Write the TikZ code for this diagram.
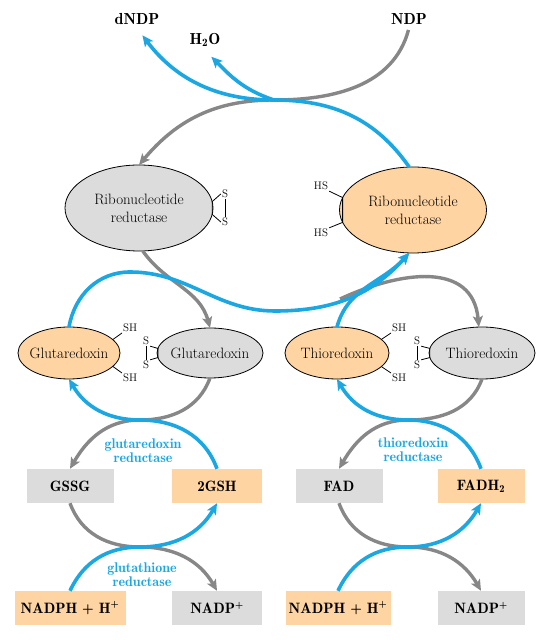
\documentclass[tikz,border=0pt]{standalone}
\usetikzlibrary{shapes.geometric,arrows.meta}
\definecolor{flowB}{HTML}{1AA7E2}
\definecolor{flowG}{HTML}{878787}
\definecolor{redF}{HTML}{FDD4A2}
\definecolor{oxF}{HTML}{DCDCDC}

\tikzset{
  enz/.style={ellipse,draw=black,line width=0.8pt,inner sep=0pt,outer sep=0pt},
  enztxt/.style={inner sep=0pt,align=center,font=\fontsize{15}{18}\selectfont},
  cofac/.style={rectangle,inner sep=0pt,minimum height=34pt,font=\fontsize{15}{18}\fontseries{b}\selectfont},
  mol/.style={font=\fontsize{16}{19}\fontseries{b}\selectfont},
  sg/.style={inner sep=1pt,font=\fontsize{11}{12}\selectfont},
  bond/.style={black,line width=0.8pt},
  redarr/.style={flowB,line width=3.6pt,-{Stealth[length=11pt,width=10pt,inset=2.5pt]}},
  oxarr/.style={flowG,line width=3.4pt,-{Stealth[length=11pt,width=10pt,inset=2.5pt]}},
  enzlbl/.style={flowB,inner sep=0pt,align=center,font=\fontsize{14}{14}\fontseries{b}\selectfont}
}

\begin{document}
\begin{tikzpicture}[x=1pt,y=1pt]
  \useasboundingbox (0,0) rectangle (537,640);

  % NDP in, dNDP and water out
  \node[mol] (dNDP) at (137,621) {dNDP};
  \node[mol] (H2O) at (205,600) {H\textsubscript{2}O};
  \node[mol] (NDP) at (409,621) {NDP};

  % ribonucleotide reductase, oxidized (left) and reduced (right)
  \node[enz,fill=oxF,minimum width=148pt,minimum height=86pt] (rrOx) at (139,432) {};
  \node[enztxt] (rrOxT) at (rrOx) {Ribonucleotide\\reductase};
  \node[enz,fill=redF,minimum width=147pt,minimum height=86pt] (rrRed) at (413,430) {};
  \node[enztxt] (rrRedT) at (rrRed) {Ribonucleotide\\reductase};

  \node[sg] (rrS1) at (225,446) {S};
  \node[sg] (rrS2) at (225,418) {S};
  \draw[bond] (rrS1.west) -- (rrOx.5) -- (rrOx.-5) -- (rrS2.west);
  \draw[bond] (rrS1.south) -- (rrS2.north);

  \node[sg] (rrHS1) at (321,454) {HS};
  \node[sg] (rrHS2) at (321,407) {HS};
  \draw[bond] (rrHS1.south east) -- (rrRed.170) -- (rrRed.190) -- (rrHS2.north east);

  % glutaredoxin pair
  \node[enz,fill=redF,minimum width=102pt,minimum height=52pt] (grxRed) at (69,287) {};
  \node[enztxt] (grxRedT) at (grxRed) {Glutaredoxin};
  \node[enz,fill=oxF,minimum width=106pt,minimum height=50pt] (grxOx) at (210,287) {};
  \node[enztxt] (grxOxT) at (grxOx) {Glutaredoxin};

  \node[sg,anchor=south west] (grxSH1) at (122,307) {SH};
  \node[sg,anchor=north west] (grxSH2) at (122,267) {SH};
  \draw[bond] (grxRed.17) -- (grxSH1.south west);
  \draw[bond] (grxRed.-17) -- (grxSH2.north west);
  \node[sg] (grxS1) at (146,299) {S};
  \node[sg] (grxS2) at (146,275) {S};
  \draw[bond] (grxS1.south east) -- (grxOx.175) -- (grxOx.185) -- (grxS2.north east);
  \draw[bond] (grxS1.south) -- (grxS2.north);

  % thioredoxin pair
  \node[enz,fill=redF,minimum width=104pt,minimum height=52pt] (trxRed) at (337,287) {};
  \node[enztxt] (trxRedT) at (trxRed) {Thioredoxin};
  \node[enz,fill=oxF,minimum width=106pt,minimum height=52pt] (trxOx) at (482,287) {};
  \node[enztxt] (trxOxT) at (trxOx) {Thioredoxin};

  \node[sg,anchor=south west] (trxSH1) at (391,307) {SH};
  \node[sg,anchor=north west] (trxSH2) at (391,267) {SH};
  \draw[bond] (trxRed.17) -- (trxSH1.south west);
  \draw[bond] (trxRed.-17) -- (trxSH2.north west);
  \node[sg] (trxS1) at (417,299) {S};
  \node[sg] (trxS2) at (417,275) {S};
  \draw[bond] (trxS1.south east) -- (trxOx.175) -- (trxOx.185) -- (trxS2.north east);
  \draw[bond] (trxS1.south) -- (trxS2.north);

  % cofactors
  \node[cofac,fill=oxF,minimum width=87pt] (gssg) at (70,154) {GSSG};
  \node[cofac,fill=redF,minimum width=90pt] (gsh) at (217,154) {2GSH};
  \node[cofac,fill=redF,minimum width=111pt] (nadphL) at (70,32) {NADPH + H\textsuperscript{+}};
  \node[cofac,fill=oxF,minimum width=90pt] (nadpL) at (217,32) {NADP\textsuperscript{+}};
  \node[cofac,fill=oxF,minimum width=87pt] (fad) at (339,154) {FAD};
  \node[cofac,fill=redF,minimum width=87pt] (fadh) at (481,154) {FADH\textsubscript{2}};
  \node[cofac,fill=redF,minimum width=105pt] (nadphR) at (338,32) {NADPH + H\textsuperscript{+}};
  \node[cofac,fill=oxF,minimum width=87pt] (nadpR) at (481,32) {NADP\textsuperscript{+}};

  \node[enzlbl] (grxRdx) at (143,189) {glutaredoxin\\reductase};
  \node[enzlbl] (trxRdx) at (413,190) {thioredoxin\\reductase};
  \node[enzlbl] (gsRdx) at (142,65) {glutathione\\reductase};

  % where the arcs touch
  \coordinate (xTop) at (274,540);
  \coordinate (bPeak) at (130,368);
  \coordinate (bLow) at (275,329);
  \coordinate (gFork) at (340,341);
  \coordinate (xGrx) at (140,220);
  \coordinate (xGsr) at (140,93);
  \coordinate (xTrx) at (408,220);
  \coordinate (xTrr) at (408,93);

  % oxidized side (gray)
  \draw[oxarr,shorten <=2pt] (NDP.south) to[out=-105,in=0] (xTop) to[out=180,in=50] (rrOx.north);
  \draw[oxarr] (rrOx.-85) to[out=-55,in=105] (grxOx.north);
  \draw[oxarr] (gFork) to[out=25,in=95,looseness=1.2] (trxOx.97);
  \draw[oxarr] (grxOx.south) to[out=-110,in=0] (xGrx) to[out=180,in=60] (gssg.north);
  \draw[oxarr] (gssg.south) to[out=-70,in=180] (xGsr) to[out=0,in=120] (nadpL.north);
  \draw[oxarr] (trxOx.south) to[out=-110,in=0] (xTrx) to[out=180,in=60] (fad.north);
  \draw[oxarr] (fad.south) to[out=-70,in=180] (xTrr) to[out=0,in=120] (nadpR.north);

  % reducing side (blue)
  \draw[redarr,shorten >=9pt] (rrRed.95) to[out=125,in=0] (xTop) to[out=180,in=-53] (dNDP.south);
  \draw[redarr,shorten >=9pt] (xTop) to[out=162,in=-45] (H2O.south);
  \draw[redarr] (grxRed.north) to[out=80,in=180] (bPeak) to[out=0,in=180] (bLow) to[out=0,in=228] (rrRed.265);
  \draw[redarr] (trxRed.north) to[out=75,in=228] (rrRed.265);
  \draw[redarr] (gsh.north) to[out=110,in=0] (xGrx) to[out=180,in=-60] (grxRed.south);
  \draw[redarr] (nadphL.north) to[out=65,in=180] (xGsr) to[out=0,in=-120] (gsh.south);
  \draw[redarr] (fadh.north) to[out=110,in=0] (xTrx) to[out=180,in=-60] (trxRed.south);
  \draw[redarr] (nadphR.north) to[out=65,in=180] (xTrr) to[out=0,in=-120] (fadh.south);

\end{tikzpicture}
\end{document}
